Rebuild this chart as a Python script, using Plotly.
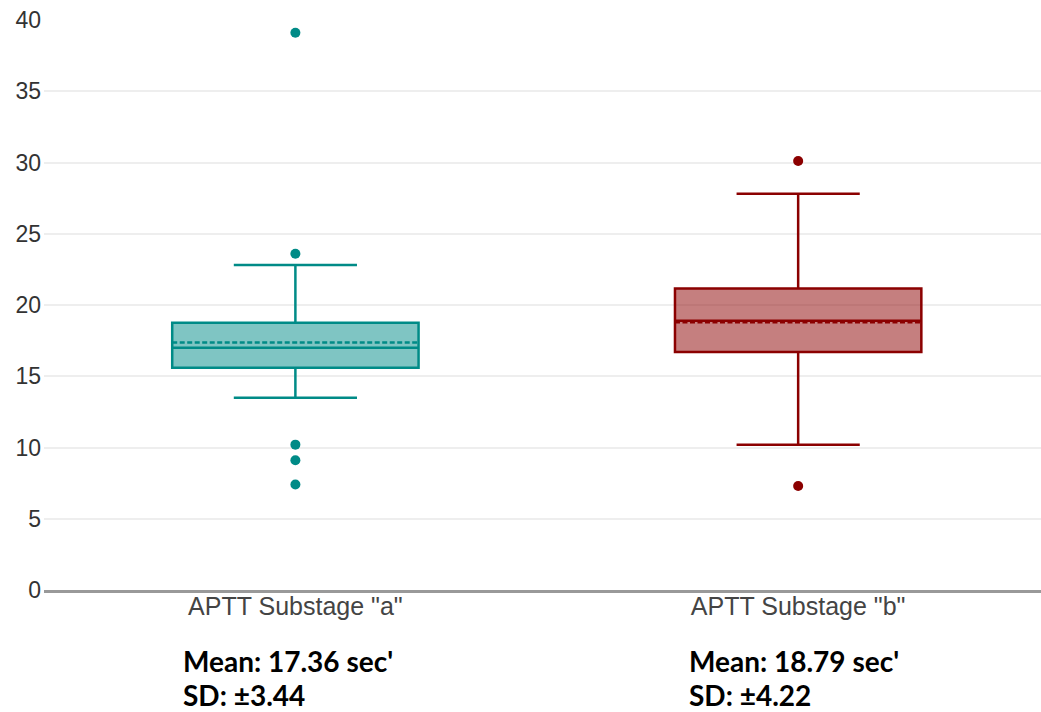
import plotly.graph_objects as go

categories = ['APTT Substage "a"', 'APTT Substage "b"']
q1 = [15.6, 16.7]
median = [17.0, 18.9]
q3 = [18.75, 21.15]
lower_fence = [13.5, 10.2]
upper_fence = [22.8, 27.8]
means = [17.36, 18.79]
sds = [3.44, 4.22]
outliers_a = [39.1, 23.6, 10.2, 9.1, 7.4]
outliers_b = [30.1, 7.3]

line_colors = ["#008b87", "#8b0000"]
fill_colors = ["rgba(0,139,135,0.5)", "rgba(139,0,0,0.5)"]
outliers = [outliers_a, outliers_b]

fig = go.Figure()
for i, cat in enumerate(categories):
    fig.add_trace(go.Box(
        x=[cat], q1=[q1[i]], median=[median[i]], q3=[q3[i]],
        lowerfence=[lower_fence[i]], upperfence=[upper_fence[i]],
        mean=[means[i]], boxmean=True, boxpoints=False,
        width=0.49, whiskerwidth=0.5,
        line=dict(color=line_colors[i], width=2.5),
        fillcolor=fill_colors[i], showlegend=False,
    ))
    fig.add_trace(go.Scatter(
        x=[cat] * len(outliers[i]), y=outliers[i], mode="markers",
        marker=dict(color=line_colors[i], size=10),
        showlegend=False,
    ))

ann_x = [-0.228, 0.779]
ann_font = dict(family="Lato, Open Sans, sans-serif", size=28, color="#000")
for i in range(2):
    fig.add_annotation(
        x=ann_x[i], y=0, xref="x", yref="paper", xanchor="left", yanchor="middle",
        yshift=-71, showarrow=False,
        text=f"<b>Mean: {means[i]:.2f} sec'</b>", font=ann_font,
    )
    fig.add_annotation(
        x=ann_x[i], y=0, xref="x", yref="paper", xanchor="left", yanchor="middle",
        yshift=-105, showarrow=False,
        text=f"<b>SD: ±{sds[i]:.2f}</b>", font=ann_font,
    )

tick_font_family = "Liberation Sans"
fig.update_layout(
    width=1041, height=712,
    margin=dict(l=44, r=0, t=20, b=122),
    plot_bgcolor="white", paper_bgcolor="white",
    font=dict(family=tick_font_family),
    xaxis=dict(
        range=[-0.5, 1.483], showgrid=False, showline=True, linecolor="#999999",
        linewidth=3, ticks="", tickfont=dict(family=tick_font_family, size=25, color="#444"),
        ticklabelstandoff=-8,
    ),
    yaxis=dict(
        range=[0, 40], dtick=5, showgrid=True, gridcolor="#eeeeee", gridwidth=1.5,
        zeroline=False, showline=False, ticks="",
        tickfont=dict(family=tick_font_family, size=23, color="#333"),
        ticklabelstandoff=2,
    ),
)

fig.write_html("out.html")
